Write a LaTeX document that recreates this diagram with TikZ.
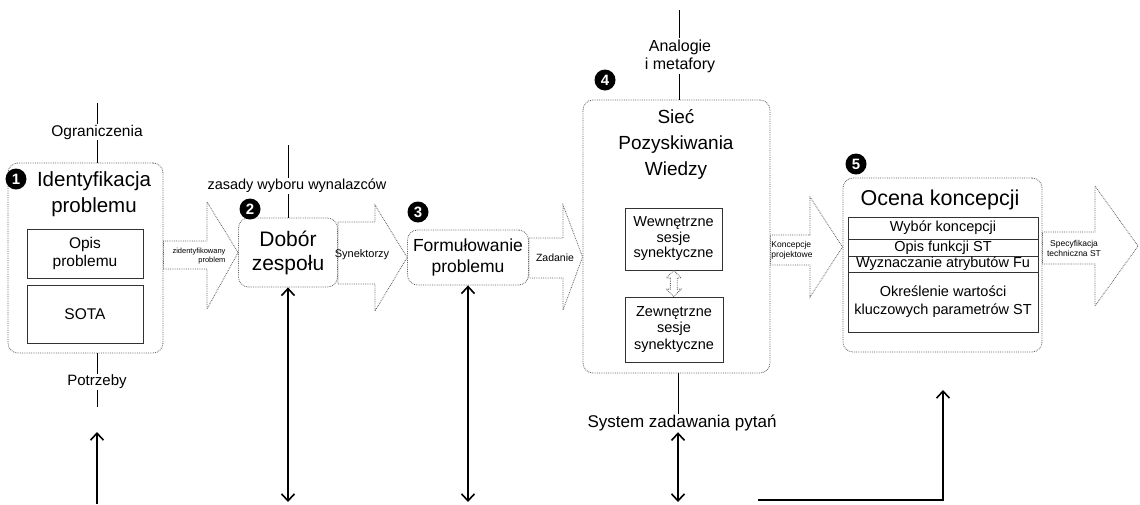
\documentclass[tikz,border=0pt]{standalone}
\usepackage{fontspec}
\setmainfont{Liberation Sans}
\usepackage{tikz}
\usetikzlibrary{positioning, arrows.meta, shapes.arrows, calc}
\definecolor{FrameColor}{RGB}{95,95,95}
\definecolor{BoxColor}{RGB}{50,50,50}
\newcommand{\fsz}[2]{\fontsize{#1pt}{#2pt}\selectfont}
\tikzstyle{stage} = [draw=FrameColor, densely dotted, thick, rounded corners=10pt, align=center, inner sep=0pt]
\tikzstyle{part} = [draw=BoxColor, line width=0.8pt, align=center, inner sep=0pt]
\tikzstyle{flow} = [draw=FrameColor, densely dotted, thick]
\tikzstyle{badge} = [circle, fill=black, text=white, inner sep=0pt, minimum size=21pt, font=\bfseries\fsz{15}{15}]
\tikzstyle{tag} = [inner sep=1pt, align=center]
\tikzstyle{tie} = [line width=0.9pt]
\tikzstyle{feed} = [line width=1.6pt, -{Straight Barb[length=7pt, width=13pt]}]
\tikzstyle{both} = [line width=1.6pt, {Straight Barb[length=7pt, width=13pt]}-{Straight Barb[length=7pt, width=13pt]}]

\begin{document}
\begin{tikzpicture}[x=1pt, y=-1pt]
            \useasboundingbox (0,0) rectangle (1140,504);

            % Identyfikacja problemu
            \node[stage, minimum width=155pt, minimum height=190pt] (ident) at (85.5,258) {};
            \node[badge] (n1) at (16,179) {1};
            \node[tag, font=\fsz{20.5}{26}] (identT) at (94,194) {Identyfikacja\\problemu};
            \node[part, minimum width=116pt, minimum height=49pt, font=\fsz{15.5}{18}] (opis) at (85,253.5) {Opis\\problemu};
            \node[part, minimum width=116pt, minimum height=58pt, font=\fsz{15.5}{18}] (sota) at (85,314) {SOTA};
            \node[tag, font=\fsz{15.5}{17}] (ogran) at (97,132) {Ograniczenia};
            \coordinate (ogranIn) at (97,103);
            \draw[tie] (ogranIn) -- (ogran);
            \draw[tie] (ogran) -- (ogran |- ident.north);
            \node[tag, font=\fsz{15}{17}] (potrz) at (97,382) {Potrzeby};
            \coordinate (potrzOut) at (97,407);
            \draw[tie] (potrz |- ident.south) -- (potrz);
            \draw[tie] (potrz) -- (potrzOut);
            \coordinate (needIn) at (97,504);
            \coordinate (needEnd) at (97,432);
            \draw[feed] (needIn) -- (needEnd);

            % Dobor zespolu
            \node[stage, minimum width=99pt, minimum height=69pt, font=\fsz{21}{24}] (dobor) at (288,252.5) {Dobór\\zespołu};
            \node[badge] (n2) at (250,209) {2};
            \node[tag, font=\fsz{14.5}{16}] (zasady) at (297,186) {zasady wyboru wynalazców};
            \coordinate (zasadyIn) at (288,145);
            \draw[tie] (zasadyIn) -- (zasadyIn |- zasady.north);
            \draw[tie] (zasadyIn |- zasady.south) -- (zasadyIn |- dobor.north);
            \draw[flow] (ident.east |- 0,241) -- (207,241) -- (207,202) -- (dobor.west) -- (207,309) -- (207,269) -- (ident.east |- 0,269) -- cycle;
            \node[tag, font=\fsz{7.5}{8.5}, align=right] (zident) at (199,256) {zidentyfikowany\\problem};

            % Formulowanie problemu
            \node[stage, minimum width=121pt, minimum height=55pt, font=\fsz{17.5}{21}] (formul) at (468,257.5) {Formułowanie\\problemu};
            \node[badge] (n3) at (418,212) {3};
            \draw[flow] (dobor.east |- 0,222) -- (375,222) -- (375,205) -- (formul.west) -- (375,311) -- (375,284) -- (dobor.east |- 0,284) -- cycle;
            \node[tag, font=\fsz{11}{12}] (synek) at (362,255) {Synektorzy};
            \coordinate (teamEnd) at (288,502);
            \draw[both] (dobor.south) -- (dobor.south |- teamEnd);
            \draw[both] (formul.south) -- (formul.south |- teamEnd);

            % Siec Pozyskiwania Wiedzy
            \node[stage, minimum width=187pt, minimum height=273pt] (siec) at (676.5,236.5) {};
            \node[badge] (n4) at (605,80) {4};
            \node[tag, font=\fsz{19}{26}] (siecT) at (676,144) {Sieć\\Pozyskiwania\\Wiedzy};
            \node[part, minimum width=97pt, minimum height=62pt, font=\fsz{14.5}{15.5}] (wewn) at (673.5,239) {Wewnętrzne\\sesje\\synektyczne};
            \node[part, minimum width=98pt, minimum height=65pt, font=\fsz{14.5}{16.5}] (zewn) at (674,329.5) {Zewnętrzne\\sesje\\synektyczne};
            \node[flow, double arrow, rotate=90, minimum height=26pt, inner sep=3pt, double arrow head extend=4pt] (swap) at ($(wewn.south)!0.5!(zewn.north)$) {};
            \draw[flow] (formul.east |- 0,238) -- (563,238) -- (563,205) -- (siec.west |- 0,257) -- (563,310) -- (563,278) -- (formul.east |- 0,278) -- cycle;
            \node[tag, font=\fsz{10.5}{12}] (zadanie) at (555,258) {Zadanie};
            \node[tag, font=\fsz{16}{18}] (analog) at (680,56) {Analogie\\i metafory};
            \coordinate (analogIn) at (679,10);
            \draw[tie] (analogIn) -- (analogIn |- analog.north);
            \draw[tie] (analogIn |- analog.south) -- (analogIn |- siec.north);
            \node[tag, font=\fsz{17}{19}] (system) at (682,423) {System zadawania pytań};
            \coordinate (askEnd) at (678,502);
            \draw[tie] (askEnd |- siec.south) -- (askEnd |- system.north);
            \draw[both] (askEnd |- system.south) -- (askEnd);

            % Ocena koncepcji
            \node[stage, minimum width=199pt, minimum height=174pt] (ocena) at (942.5,265) {};
            \node[badge] (n5) at (856,164) {5};
            \node[tag, font=\fsz{21.5}{24}] (ocenaT) at (940,200) {Ocena koncepcji};
            \node[part, minimum width=190pt, minimum height=22pt, font=\fsz{14.5}{16}] (wybor) at (943,228) {Wybór koncepcji};
            \node[part, minimum width=190pt, minimum height=17pt, font=\fsz{14.5}{16}] (opisF) at (943,247.5) {Opis funkcji ST};
            \node[part, minimum width=190pt, minimum height=16pt, font=\fsz{14.5}{16}] (wyzn) at (943,264) {Wyznaczanie atrybutów Fu};
            \node[part, minimum width=190pt, minimum height=60pt, font=\fsz{14.5}{18}] (okresl) at (943,302) {Określenie wartości\\kluczowych parametrów ST};
            \draw[flow] (siec.east |- 0,235) -- (810,235) -- (810,197) -- (ocena.west |- 0,247) -- (810,297) -- (810,265) -- (siec.east |- 0,265) -- cycle;
            \node[tag, font=\fsz{8.5}{10}, align=left] (koncep) at (792,250) {Koncepcje\\projektowe};
            \coordinate (specOut) at (1138,246);
            \draw[flow] (ocena.east |- 0,232) -- (1095,232) -- (1095,186) -- (specOut) -- (1095,306) -- (1095,264) -- (ocena.east |- 0,264) -- cycle;
            \node[tag, font=\fsz{8.5}{10}] (spec) at (1074,248) {Specyfikacja\\techniczna ST};
            \coordinate (evalIn) at (758,500);
            \coordinate (evalEnd) at (943,390);
            \draw[feed] (evalIn) -- (evalIn -| evalEnd) -- (evalEnd);
        \end{tikzpicture}
\end{document}
